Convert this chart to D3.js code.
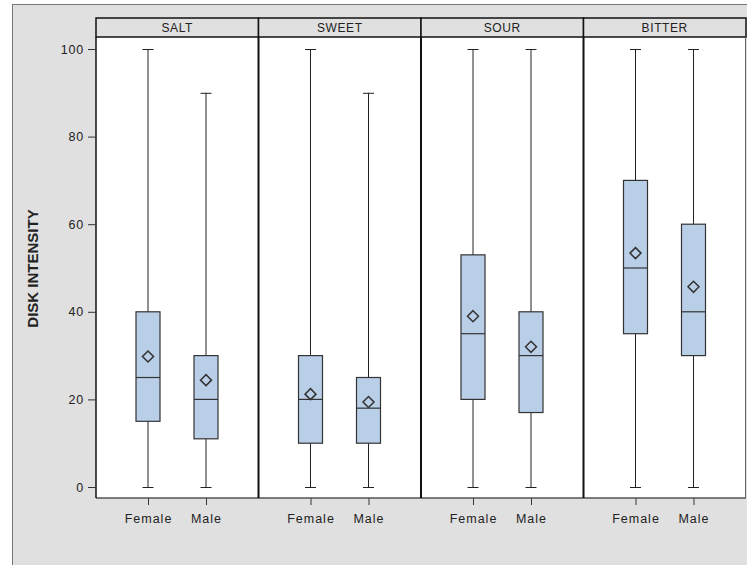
<!DOCTYPE html>
<html>
<head>
<meta charset="utf-8">
<script src="https://cdn.jsdelivr.net/npm/d3@7"></script>
<style>
  body { margin: 0; background: #fff; }
  text { font-family: "Liberation Sans", Arial, sans-serif; fill: #222; }
</style>
</head>
<body>
<div id="graf"></div>
<script>
// Box plots: disk intensity by taste and sex

tastes = ['SALT', 'SWEET', 'SOUR', 'BITTER']
sexes = ['Female', 'Male']
// [min, q1, median, q3, max, mean], one row per taste, female then male
femaleStats = [
  [0, 15, 25, 40, 100, 29.8],
  [0, 10, 20, 30, 100, 21.2],
  [0, 20, 35, 53, 100, 39.0],
  [0, 35, 50, 70, 100, 53.4]
]
maleStats = [
  [0, 11, 20, 30, 90, 24.4],
  [0, 10, 18, 25, 90, 19.4],
  [0, 17, 30, 40, 100, 32.0],
  [0, 30, 40, 60, 100, 45.7]
]
yTicks = [0, 20, 40, 60, 80, 100]

ancho_total = 747
alto_total = 565
margins = { top: 37, left: 96, right: 1, bottom: 67 }
ancho = ancho_total - margins.left - margins.right
alto = alto_total - margins.top - margins.bottom

svg = d3.select('#graf').append('svg')
  .attr('width', ancho_total)
  .attr('height', alto_total)

// fondo gris con marco
svg.append('rect')
  .attr('x', 12.5).attr('y', 4.5)
  .attr('width', 760).attr('height', 600)
  .attr('fill', '#e0e0e0')
  .attr('stroke', '#777')

g = svg.append('g')
  .attr('transform', `translate(${margins.left}, ${margins.top})`)

// Escaladores
panel = d3.scaleBand().domain(tastes).range([0, ancho])
x = d3.scalePoint().domain(sexes).range([52, 110])
y = d3.scaleLinear().domain([0, 100]).range([450, 12])

rows = tastes.map((t, i) => ({
  taste: t,
  boxes: [
    { sex: 'Female', s: femaleStats[i] },
    { sex: 'Male', s: maleStats[i] }
  ]
}))

// area blanca
g.append('rect')
  .attr('x', 0).attr('y', 0)
  .attr('width', ancho).attr('height', alto)
  .attr('fill', '#fff')

// cabeceras
head = g.selectAll('.head').data(tastes).join('g')
  .attr('transform', d => `translate(${panel(d)}, -19)`)
head.append('rect')
  .attr('width', panel.bandwidth()).attr('height', 19)
  .attr('fill', '#e0e0e0')
  .attr('stroke', '#111').attr('stroke-width', 1.5)
head.append('text')
  .attr('x', panel.bandwidth() / 2).attr('y', 14)
  .attr('text-anchor', 'middle')
  .style('font-size', '12px')
  .style('letter-spacing', '0.6px')
  .text(d => d)

// paneles
bw = 24
cap = 11
p = g.selectAll('.panel').data(rows).join('g')
  .attr('transform', d => `translate(${panel(d.taste)}, 0)`)

b = p.selectAll('.box').data(d => d.boxes).join('g')
  .attr('transform', d => `translate(${x(d.sex)}, 0)`)

b.append('line')
  .attr('y1', d => y(d.s[0])).attr('y2', d => y(d.s[4]))
  .attr('stroke', '#222')
b.selectAll('.cap').data(d => [d.s[0], d.s[4]]).join('line')
  .attr('x1', -cap / 2).attr('x2', cap / 2)
  .attr('y1', d => y(d) + 0.5).attr('y2', d => y(d) + 0.5)
  .attr('stroke', '#222')
b.append('rect')
  .attr('x', -bw / 2).attr('width', bw)
  .attr('y', d => y(d.s[3])).attr('height', d => y(d.s[1]) - y(d.s[3]))
  .attr('fill', '#b9cfe8')
  .attr('stroke', '#333').attr('stroke-width', 1.2)
b.append('line')
  .attr('x1', -bw / 2).attr('x2', bw / 2)
  .attr('y1', d => y(d.s[2])).attr('y2', d => y(d.s[2]))
  .attr('stroke', '#333').attr('stroke-width', 1.2)
b.append('path')
  .attr('transform', d => `translate(0, ${y(d.s[5])})`)
  .attr('d', 'M0,-5.5L5.5,0L0,5.5L-5.5,0Z')
  .attr('fill', 'none')
  .attr('stroke', '#333').attr('stroke-width', 1.5)

// bordes de paneles
g.append('line')
  .attr('x1', 0).attr('x2', ancho).attr('y1', alto).attr('y2', alto)
  .attr('stroke', '#555').attr('stroke-width', 1.5)
g.append('line')
  .attr('x1', ancho - 0.5).attr('x2', ancho - 0.5).attr('y1', 0).attr('y2', alto)
  .attr('stroke', '#666')
g.selectAll('.div').data(tastes).join('line')
  .attr('x1', d => panel(d)).attr('x2', d => panel(d))
  .attr('y1', 0).attr('y2', alto)
  .attr('stroke', '#111').attr('stroke-width', d => d === 'SALT' ? 1.5 : 2)

// Ejes
yAxis = g.append('g')
  .call(d3.axisLeft(y).tickValues(yTicks).tickSize(8).tickPadding(4))
yAxis.select('.domain').remove()
yAxis.selectAll('line').attr('stroke', '#333')
yAxis.selectAll('text')
  .style('font-size', '12.5px')
  .style('letter-spacing', '0.8px')
  .attr('fill', '#222')

p.each(function () {
  xa = d3.select(this).append('g')
    .attr('transform', `translate(0, ${alto})`)
    .call(d3.axisBottom(x).tickSize(7).tickPadding(9))
  xa.select('.domain').remove()
  xa.selectAll('line').attr('stroke', '#333')
  xa.selectAll('text')
    .style('font-size', '12.5px')
    .style('letter-spacing', '1px')
    .attr('fill', '#222')
})

svg.append('text')
  .attr('transform', 'translate(38, 268.5) rotate(-90)')
  .attr('text-anchor', 'middle')
  .style('font-size', '15px')
  .style('font-weight', 'bold')
  .text('DISK INTENSITY')
</script>
</body>
</html>
